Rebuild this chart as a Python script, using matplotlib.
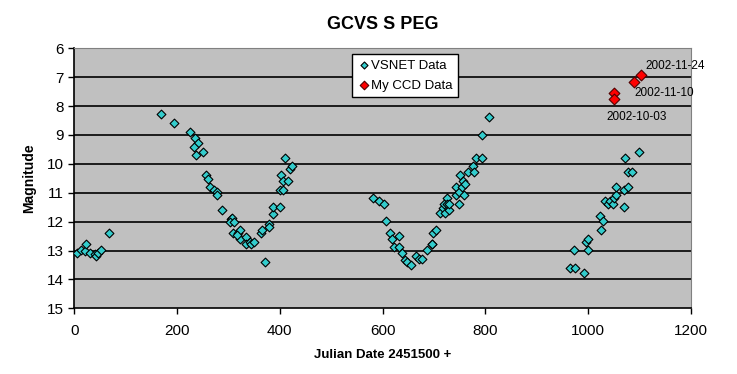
import matplotlib
matplotlib.use("Agg")
import numpy as np
import matplotlib.pyplot as plt

plt.rcParams["font.family"] = ["Liberation Sans", "DejaVu Sans"]

# VSNET visual estimates (JD - 2451500, magnitude)
vs_jd = [6, 14, 21, 23, 30, 41, 43, 46, 52, 68,
         169, 194, 225, 235, 240, 233, 237, 251, 257, 260,
         265, 271, 277, 278, 288, 304, 307, 302, 311, 308,
         319, 323, 323, 316, 334, 334, 342, 343, 350, 363,
         365, 371, 378, 379, 387, 387, 400, 401, 406, 403,
         406, 410, 415, 420, 424,
         582, 593, 602, 606, 614, 619, 622, 631, 631, 637,
         644, 648, 655, 665, 670, 676, 686, 696, 697, 698,
         703, 712, 717, 719, 721, 725, 725, 730, 730, 743,
         743, 748, 748, 751, 754, 757, 758, 760, 767, 775,
         777, 782, 793, 793, 806,
         965, 974, 973, 991, 995, 1000, 999, 1023, 1028, 1024,
         1032, 1039, 1042, 1049, 1051, 1055, 1055, 1069, 1069, 1071,
         1077, 1078, 1086, 1098]
vs_mag = [13.09, 12.98, 13.0, 12.78, 13.09, 13.12, 13.19, 13.09, 12.99, 12.4,
          8.28, 8.59, 8.9, 9.12, 9.28, 9.4, 9.7, 9.59, 10.4, 10.51,
          10.81, 10.9, 10.97, 11.09, 11.6, 11.91, 11.88, 12.0, 12.0, 12.4,
          12.4, 12.28, 12.6, 12.45, 12.52, 12.78, 12.72, 12.78, 12.71, 12.4,
          12.3, 13.4, 12.09, 12.2, 11.72, 11.5, 11.5, 10.91, 10.91, 10.4,
          10.61, 9.8, 10.6, 10.17, 10.08,
          11.19, 11.27, 11.39, 11.98, 12.4, 12.6, 12.87, 12.5, 12.87, 13.1,
          13.32, 13.4, 13.5, 13.18, 13.28, 13.3, 12.99, 12.78, 12.78, 12.4,
          12.28, 11.7, 11.52, 11.39, 11.7, 11.19, 11.39, 11.58, 11.39, 11.08,
          10.81, 11.39, 10.99, 10.4, 10.81, 10.59, 11.08, 10.69, 10.29, 10.09,
          10.29, 9.8, 9.8, 9.0, 8.38,
          13.61, 13.61, 12.99, 13.79, 12.71, 12.6, 12.99, 11.81, 11.98, 12.28,
          11.27, 11.39, 11.27, 11.39, 11.19, 11.08, 10.81, 11.5, 10.9, 9.8,
          10.81, 10.29, 10.29, 9.59]

# my CCD measurements
ccd_jd = [1051, 1051, 1089, 1103]
ccd_mag = [7.55, 7.74, 7.15, 6.94]
ccd_dates = ["", "2002-10-03", "2002-11-10", "2002-11-24"]

fig = plt.figure(figsize=(7.37, 3.74), dpi=100)
ax = fig.add_axes([74.3 / 737, 1 - 308.3 / 374, (691 - 74.3) / 737, 260 / 374])
ax.set_facecolor("#c0c0c0")

ax.scatter(vs_jd, vs_mag, marker="D", s=20, c="#33cccc", edgecolors="black",
           linewidths=0.8, label="VSNET Data", zorder=3)
ax.scatter(ccd_jd, ccd_mag, marker="D", s=30, c="#ff0000", edgecolors="#500000",
           linewidths=0.8, label="My CCD Data", zorder=4)

# data labels
offs = [(0, 0), (-6, -13), (0, -8), (3, 6.5)]
for jd, m, lab, o in zip(ccd_jd, ccd_mag, ccd_dates, offs):
    if lab:
        ax.annotate(lab, (jd, m), xytext=o, textcoords="offset points",
                    fontsize=8.5, ha="left", va="center")

ax.set_xlim(0, 1200)
ax.set_ylim(15, 6)
ax.set_xticks(np.arange(0, 1201, 200))
ax.set_yticks(np.arange(6, 16, 1))
for m in range(7, 15):
    ax.axhline(m, color="black", linewidth=1.2, zorder=1)

ax.tick_params(direction="out", length=4, width=1, labelsize=11, colors="black")
ax.tick_params(axis="x", pad=7)
for side in ["top", "right"]:
    ax.spines[side].set_color("#808080")
for side in ["left", "bottom"]:
    ax.spines[side].set_linewidth(1.2)

ax.set_title("GCVS S PEG", fontsize=13, fontweight="bold", pad=14)
ax.set_xlabel("Julian Date 2451500 +", fontsize=9.5, fontweight="bold", labelpad=8)
ax.set_ylabel("Magnitude", fontsize=10, fontweight="bold", labelpad=8)

leg = ax.legend(loc="upper left", bbox_to_anchor=((351.7 - 74.3) / 616.7, 1 - (54 - 48.3) / 260),
                fontsize=9.5, frameon=True, fancybox=False, borderpad=0.4,
                handletextpad=0.1, handlelength=1.0, labelspacing=0.6,
                borderaxespad=0, markerscale=0.8)
leg.get_frame().set_edgecolor("black")
leg.get_frame().set_facecolor("white")
leg.get_frame().set_alpha(1)
leg.get_frame().set_linewidth(1)

fig.savefig("out.png", dpi=100, facecolor="white")
